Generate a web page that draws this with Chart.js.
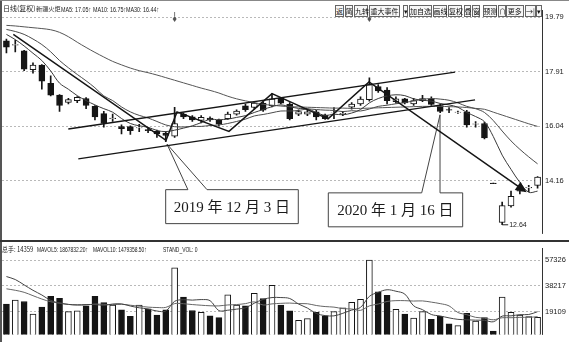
<!DOCTYPE html>
<html>
<head>
<meta charset="utf-8">
<script src="https://cdn.jsdelivr.net/npm/chart.js@4.4.1/dist/chart.umd.min.js"></script>
<style>
html,body{margin:0;padding:0;background:#fff;}
#wrap{position:relative;width:569px;height:342px;overflow:hidden;background:#fff;}
#pc{position:absolute;left:0;top:0;}
#vc{position:absolute;left:0;top:241px;}
.t{position:absolute;white-space:nowrap;color:#222;font-family:"Liberation Sans","Noto Sans CJK SC",sans-serif;font-size:7.5px;line-height:9px;transform-origin:0 0;}
.c{font-family:"Noto Sans CJK SC",sans-serif;}
#frameL{position:absolute;left:0;top:0;width:2px;height:342px;background:#555;}
#frameT{position:absolute;left:0;top:0;width:569px;height:1px;background:#888;}
#divider{position:absolute;left:0;top:240px;width:569px;height:2px;background:#333;}
.b{position:absolute;top:5px;height:12px;box-sizing:border-box;border:1px solid #666;background:#f7f7f7;font-family:"Noto Sans CJK SC",sans-serif;font-size:7px;line-height:10px;text-align:center;color:#111;overflow:visible;white-space:nowrap;}
</style>
</head>
<body>
<div id="wrap">
  <canvas id="pc" width="569" height="241"></canvas>
  <canvas id="vc" width="569" height="101"></canvas>
  <div id="frameL"></div>
  <div id="frameT"></div>
  <div id="divider"></div>
  <div class="t c" style="left:3px;top:4px;font-size:7px;">日线(复权)</div>
  <div class="t c" style="left:36px;top:4px;font-size:6.2px;">新疆火炬</div>
  <div class="t" style="left:61px;top:5px;transform:scaleX(0.72);">MA5: 17.05↑</div>
  <div class="t" style="left:93px;top:5px;transform:scaleX(0.72);">MA10: 16.75↑</div>
  <div class="t" style="left:126px;top:5px;transform:scaleX(0.72);">MA30: 16.44↑</div>
  <div class="t c" style="left:2px;top:245px;font-size:7px;transform:scaleX(0.85);">总手: 14359</div>
  <div class="t" style="left:37px;top:245px;transform:scaleX(0.66);">MAVOL5: 1867832.20↑</div>
  <div class="t" style="left:93px;top:245px;transform:scaleX(0.66);">MAVOL10: 1479358.50↑</div>
  <div class="t" style="left:163px;top:245px;transform:scaleX(0.66);">STAND_VOL: 0</div>
</div>
<script>
// ---------------- data ----------------
const dates = ["2019-11-07","2019-11-08","2019-11-11","2019-11-12","2019-11-13","2019-11-14","2019-11-15","2019-11-18","2019-11-19","2019-11-20",
"2019-11-21","2019-11-22","2019-11-25","2019-11-26","2019-11-27","2019-11-28","2019-11-29","2019-12-02","2019-12-03","2019-12-04",
"2019-12-05","2019-12-06","2019-12-09","2019-12-10","2019-12-11","2019-12-12","2019-12-13","2019-12-16","2019-12-17","2019-12-18",
"2019-12-19","2019-12-20","2019-12-23","2019-12-24","2019-12-25","2019-12-26","2019-12-27","2019-12-30","2019-12-31","2020-01-02",
"2020-01-03","2020-01-06","2020-01-07","2020-01-08","2020-01-09","2020-01-10","2020-01-13","2020-01-14","2020-01-15","2020-01-16",
"2020-01-17","2020-01-20","2020-01-21","2020-01-22","2020-01-23","2020-02-03","2020-02-04","2020-02-05","2020-02-06","2020-02-07","2020-02-10"];

const opens  = [18.98,18.83,18.63,17.98,18.14,17.51,17.11,16.86,16.92,16.99,16.72,16.47,16.30,16.02,16.02,15.98,15.92,15.86,15.80,15.69,
16.45,16.36,16.24,16.32,16.25,16.30,16.45,16.74,16.68,16.83,16.74,17.00,16.79,16.45,16.45,16.53,16.42,16.49,16.47,16.69,
16.80,16.95,17.40,17.28,16.88,16.98,16.80,16.92,16.97,16.75,16.61,16.51,16.53,16.11,16.13,14.08,12.72,13.29,13.80,13.91,14.00];
const highs  = [19.04,19.00,18.65,18.22,18.16,17.77,17.13,17.00,17.06,17.02,16.75,16.55,16.45,16.08,16.05,16.10,16.00,15.90,15.85,16.69,
16.50,16.40,16.40,16.36,16.28,16.52,16.60,16.80,16.88,16.86,17.16,17.03,16.85,16.60,16.58,16.58,16.45,16.68,16.55,16.85,
17.05,17.70,17.47,17.37,17.05,17.00,17.00,17.10,17.05,16.80,16.68,16.56,16.58,16.20,16.18,14.08,13.42,13.80,13.98,14.00,14.30];
const lows   = [18.56,18.60,17.95,17.86,17.31,17.08,16.55,16.80,16.85,16.64,16.25,16.00,16.20,15.77,15.75,15.85,15.81,15.65,15.50,15.65,
16.30,16.20,16.15,16.20,16.05,16.27,16.42,16.55,16.62,16.55,16.70,16.80,16.25,16.40,16.40,16.25,16.27,16.30,16.40,16.62,
16.75,16.90,17.20,16.80,16.83,16.80,16.75,16.88,16.75,16.50,16.50,16.48,16.00,16.00,15.60,14.06,12.64,13.25,13.70,13.78,13.90];
const closes = [18.76,18.85,18.00,18.14,17.59,17.11,16.75,16.95,17.03,16.75,16.36,16.13,16.32,15.95,15.88,15.99,15.88,15.77,15.72,16.13,
16.36,16.25,16.34,16.25,16.11,16.45,16.56,16.61,16.83,16.59,16.98,16.83,16.30,16.54,16.53,16.36,16.30,16.50,16.48,16.80,
16.97,17.47,17.25,16.92,16.98,16.84,16.92,16.99,16.79,16.55,16.59,16.52,16.08,16.12,15.63,14.06,13.30,13.62,13.90,13.93,14.28];

const ma5  = [19.20,19.02,18.80,18.55,18.30,17.94,17.52,17.31,17.09,16.92,16.77,16.64,16.52,16.30,16.13,16.05,16.00,15.89,15.85,15.90,
15.97,16.05,16.16,16.27,16.26,16.28,16.34,16.40,16.51,16.61,16.71,16.77,16.71,16.65,16.64,16.51,16.41,16.45,16.43,16.49,
16.61,16.84,16.99,17.08,17.12,17.09,16.98,16.93,16.90,16.82,16.77,16.69,16.51,16.37,16.19,15.68,15.04,14.55,14.10,13.76,13.80];
const ma10 = [19.37,19.30,19.20,19.04,18.85,18.60,18.30,18.05,17.82,17.60,17.36,17.08,16.92,16.70,16.53,16.41,16.32,16.20,16.08,16.02,
16.01,16.03,16.03,16.06,16.08,16.13,16.20,16.28,16.39,16.44,16.50,16.56,16.56,16.58,16.63,16.61,16.59,16.58,16.54,16.57,
16.56,16.63,16.72,16.76,16.81,16.85,16.91,16.96,16.99,16.97,16.93,16.84,16.72,16.64,16.51,16.23,15.87,15.53,15.24,14.98,14.74];
const ma30 = [19.51,19.49,19.46,19.43,19.40,19.36,19.27,19.12,18.93,18.75,18.58,18.42,18.27,18.15,18.04,17.95,17.88,17.80,17.71,17.62,
17.53,17.44,17.35,17.27,17.18,17.07,16.98,16.91,16.85,16.79,16.76,16.73,16.71,16.70,16.69,16.68,16.67,16.66,16.66,16.65,
16.65,16.66,16.67,16.68,16.69,16.70,16.71,16.72,16.72,16.72,16.71,16.70,16.68,16.65,16.62,16.52,16.42,16.32,16.22,16.12,16.03];

const volumes = [24800,27800,26700,17300,22600,30600,29100,19100,19800,23500,30600,25800,24100,20400,15600,24100,21300,16500,20400,51700,
30000,20000,18600,16000,14700,31700,24100,23500,32800,28900,38700,24100,19800,12600,13900,18600,16000,19100,21900,26100,
28200,57400,33900,31300,20900,17300,14300,19100,13400,15600,10000,8700,17800,12100,14700,4600,30000,18600,16500,15400,15000];
const vma5  = [45200,43000,39000,35000,31500,27500,25500,24500,24200,24400,24400,23800,24800,24900,23300,22000,21100,19600,19600,26800,
28000,27700,28100,27300,19900,20200,21000,22000,25400,28200,29600,29600,28900,24800,21800,17800,16200,16000,17900,20300,
22300,30500,33500,35400,34300,32200,23500,20600,17000,15900,14500,13400,13100,12800,12700,11600,15800,16000,16900,17000,19100];
const vma10 = [36100,35000,33500,31000,28500,26500,25500,24500,24000,24100,24700,24600,24300,24600,23900,23200,22500,22200,22300,25100,
25000,24400,23900,23500,23400,24100,24400,25100,26400,24100,24900,25300,25500,25100,25000,23700,22900,22500,21400,21100,
20100,23400,24800,26700,27300,27300,27000,27100,26200,25100,23400,18500,16900,14900,14300,13100,14600,14600,14900,14900,15400];

const priceTicks  = [19.79, 17.91, 16.04, 14.16];
const volumeTicks = [57326, 38217, 19109];

// annotation geometry in data space: [category index, price]
const wavePath = [[0.78,19.20],[18.03,15.55],[19.27,16.53],[25.14,15.86],[30.0,17.16],[36.33,16.29],[40.96,17.56],[58.58,13.80]];
const channelLines = [[[6.99,15.94],[50.68,17.90]], [[8.12,14.91],[52.94,16.94]]];
const callouts = [
  {text:"2019 年 12 月 3 日", box:[17.99,32.97,13.85,12.68], base:[20.5,22.66], apex:[18.14,15.42]},
  {text:"2020 年 1 月 16 日", box:[36.36,51.54,13.74,12.57], base:[46.91,48.98], apex:[48.98,16.43]}
];
const eventMarks = [19, 41];
const lowMark = {index:56, price:12.64, text:"12.64"};

// ---------------- toolbar ----------------
const toolbar = [["返",335,8.5],["简",344.5,8.5],["九转",354,14],["重大事件",369,31],["▾",402.5,5.5],["加自选",409,22.5],["画线",432.5,14.5],["复权",448,14],["叠",463.5,7.5],["窗",472,8],["预测",482.5,14.5],["∩",498,7.5],["更多",506,17.5],["→|",525,10.5],["▾",536,5.5]];
const wrap = document.getElementById('wrap');
toolbar.forEach(([t,l,w])=>{const d=document.createElement('div');d.className='b';d.style.left=l+'px';d.style.width=w+'px';d.textContent=t;wrap.appendChild(d);});

// ---------------- helpers ----------------
const isUp = opens.map((o,i)=>closes[i]>=o);
const INK = '#151515';

const annotPlugin = {
  id:'annot',
  afterDatasetsDraw(chart){
    const {ctx, scales:{x,y}, chartArea:ca} = chart;
    const X=v=>x.getPixelForValue(v), Y=v=>y.getPixelForValue(v);
    ctx.save();
    callouts.forEach(c=>{
      const l=X(c.box[0]), r=X(c.box[1]), t=Y(c.box[2]), b=Y(c.box[3]);
      ctx.fillStyle='#fff';
      ctx.fillRect(l,t,r-l,b-t);
      ctx.beginPath();
      ctx.moveTo(l,t); ctx.lineTo(X(c.base[0]),t); ctx.lineTo(X(c.apex[0]),Y(c.apex[1])); ctx.lineTo(X(c.base[1]),t);
      ctx.lineTo(r,t); ctx.lineTo(r,b); ctx.lineTo(l,b); ctx.closePath();
      ctx.strokeStyle='#444'; ctx.lineWidth=1; ctx.stroke();
      ctx.fillStyle='#1a1a1a';
      ctx.font='15px "Liberation Serif","Noto Sans CJK SC",serif';
      ctx.textAlign='center'; ctx.textBaseline='middle';
      ctx.fillText(c.text,(l+r)/2,(t+b)/2+1);
    });
    ctx.strokeStyle=INK; ctx.lineWidth=1.3;
    channelLines.forEach(s=>{ctx.beginPath();ctx.moveTo(X(s[0][0]),Y(s[0][1]));ctx.lineTo(X(s[1][0]),Y(s[1][1]));ctx.stroke();});
    ctx.lineWidth=1.5;
    ctx.beginPath();
    wavePath.forEach((p,i)=>{const px=X(p[0]),py=Y(p[1]); if(i===0)ctx.moveTo(px,py); else ctx.lineTo(px,py);});
    ctx.stroke();
    const n=wavePath.length, a=wavePath[n-2], e=wavePath[n-1];
    const ex=X(e[0]), ey=Y(e[1]), ang=Math.atan2(ey-Y(a[1]), ex-X(a[0]));
    ctx.beginPath();
    ctx.moveTo(ex+2*Math.cos(ang),ey+2*Math.sin(ang));
    ctx.lineTo(ex-9*Math.cos(ang)+5*Math.sin(ang), ey-9*Math.sin(ang)-5*Math.cos(ang));
    ctx.lineTo(ex-9*Math.cos(ang)-5*Math.sin(ang), ey-9*Math.sin(ang)+5*Math.cos(ang));
    ctx.closePath(); ctx.fillStyle=INK; ctx.fill();
    eventMarks.forEach(i=>{
      const px=X(i), py=ca.top+9;
      ctx.beginPath(); ctx.moveTo(px,py-3); ctx.lineTo(px+2,py); ctx.lineTo(px,py+3); ctx.lineTo(px-2,py); ctx.closePath();
      ctx.fillStyle='#555'; ctx.fill();
      ctx.strokeStyle='#777'; ctx.lineWidth=1; ctx.beginPath(); ctx.moveTo(px,py-7); ctx.lineTo(px,py-3); ctx.stroke();
    });
    const lx=X(lowMark.index), ly=Y(lowMark.price);
    ctx.strokeStyle='#222'; ctx.lineWidth=1;
    ctx.beginPath(); ctx.moveTo(lx,ly); ctx.lineTo(lx+6,ly); ctx.stroke();
    ctx.fillStyle='#222'; ctx.font='7px "Liberation Sans",sans-serif'; ctx.textAlign='left'; ctx.textBaseline='middle';
    ctx.fillText(lowMark.text,lx+7,ly+0.5);
    ctx.restore();
  }
};

const yFit = s=>{s.width=27;};

new Chart(document.getElementById('pc'),{
  data:{
    labels:dates,
    datasets:[
      {type:'bar',label:'wick',data:lows.map((l,i)=>[l,highs[i]]),backgroundColor:INK,barThickness:1,grouped:false,order:3},
      {type:'bar',label:'body',data:opens.map((o,i)=>[o,closes[i]]),backgroundColor:isUp.map(u=>u?'#fff':INK),borderColor:INK,borderWidth:1,borderSkipped:false,barThickness:6,grouped:false,order:2},
      {type:'line',label:'MA5',data:ma5,borderColor:'#3a3a3a',borderWidth:1,pointRadius:0,tension:0.35,order:1},
      {type:'line',label:'MA10',data:ma10,borderColor:'#4a4a4a',borderWidth:1,pointRadius:0,tension:0.35,order:1},
      {type:'line',label:'MA30',data:ma30,borderColor:'#555',borderWidth:1,pointRadius:0,tension:0.35,order:1}
    ]
  },
  options:{
    responsive:false,animation:false,devicePixelRatio:1,
    layout:{padding:{left:2,top:10,right:0,bottom:1}},
    plugins:{legend:{display:false},tooltip:{enabled:false}},
    scales:{
      x:{type:'category',display:false,offset:true},
      y:{position:'right',min:12.34,max:20.04,
         afterBuildTicks:s=>{s.ticks=priceTicks.map(v=>({value:v}));},
         afterFit:yFit,
         ticks:{color:'#222',padding:3,font:{family:'Liberation Sans',size:7.5},callback:v=>v.toFixed(2)},
         grid:{color:'#a8a8a8',lineWidth:0.8,drawTicks:false},
         border:{display:true,color:'#333',width:1,dash:[2,2]}}
    }
  },
  plugins:[annotPlugin]
});

new Chart(document.getElementById('vc'),{
  data:{
    labels:dates,
    datasets:[
      {type:'bar',label:'volume',data:volumes,backgroundColor:isUp.map(u=>u?'#fff':INK),borderColor:INK,borderWidth:1,borderSkipped:false,barThickness:6,order:2},
      {type:'line',label:'MAVOL5',data:vma5,borderColor:'#444',borderWidth:1,pointRadius:0,tension:0.35,order:1},
      {type:'line',label:'MAVOL10',data:vma10,borderColor:'#666',borderWidth:1,pointRadius:0,tension:0.35,order:1}
    ]
  },
  options:{
    responsive:false,animation:false,devicePixelRatio:1,
    layout:{padding:{left:2,top:3,right:0,bottom:0}},
    plugins:{legend:{display:false},tooltip:{enabled:false}},
    scales:{
      x:{type:'category',display:false,offset:true},
      y:{position:'right',min:2150,max:66050,
         afterBuildTicks:s=>{s.ticks=volumeTicks.map(v=>({value:v}));},
         afterFit:yFit,
         ticks:{color:'#222',padding:3,font:{family:'Liberation Sans',size:7.5},callback:v=>String(v)},
         grid:{color:'#a8a8a8',lineWidth:0.8,drawTicks:false},
         border:{display:true,color:'#333',width:1,dash:[2,2]}}
    }
  }
});
</script>
</body>
</html>
